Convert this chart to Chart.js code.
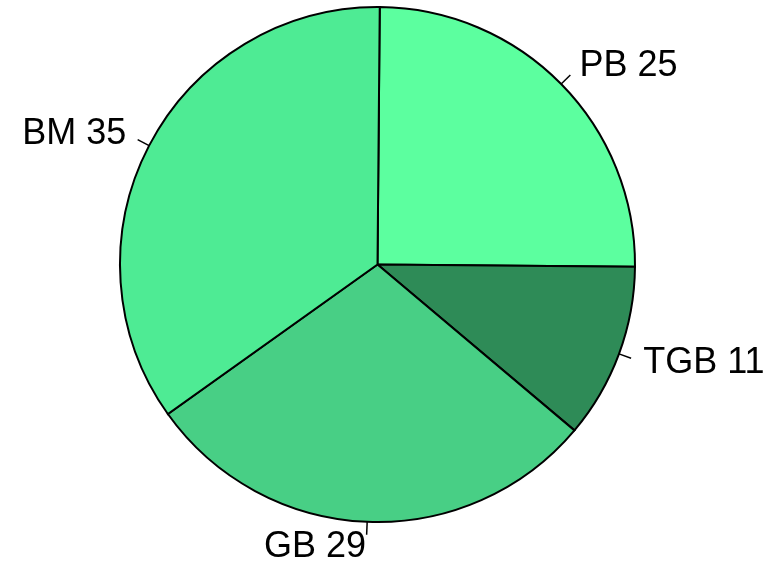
<!DOCTYPE html>
<html>
<head>
<meta charset="utf-8">
<script src="https://cdn.jsdelivr.net/npm/chart.js@4/dist/chart.umd.min.js"></script>
<style>
  html, body { margin: 0; padding: 0; background: #fff; }
  #wrap { width: 783px; height: 567px; }
</style>
</head>
<body>
<div id="wrap"><canvas id="pie"></canvas></div>
<script>
'use strict';

// データ
const categories = ['PB', 'TGB', 'GB', 'BM'];
const values = [25, 11, 29, 35];
const sliceColors = ['#5cff9f', '#2e8b57', '#48cf85', '#4eeb94'];

// 外側のラベル（目盛り線 + テキスト）
const outsideLabels = {
  id: 'outsideLabels',
  afterDatasetsDraw(chart) {
    const ctx = chart.ctx;
    const arcs = chart.getDatasetMeta(0).data;
    ctx.save();
    ctx.strokeStyle = '#000';
    ctx.lineWidth = 1.5;
    ctx.fillStyle = '#000';
    ctx.font = '36px "Liberation Sans", Arial, sans-serif';
    ctx.textBaseline = 'middle';
    arcs.forEach((arc, i) => {
      const mid = (arc.startAngle + arc.endAngle) / 2;
      const r = arc.outerRadius;
      const c = Math.cos(mid), s = Math.sin(mid);
      ctx.beginPath();
      ctx.moveTo(arc.x + c * r, arc.y + s * r);
      ctx.lineTo(arc.x + c * r * 1.05, arc.y + s * r * 1.05);
      ctx.stroke();
      ctx.textAlign = c >= 0 ? 'left' : 'right';
      ctx.fillText(categories[i] + ' ' + values[i], arc.x + c * r * 1.1, arc.y + s * r * 1.1);
    });
    ctx.restore();
  }
};

new Chart(document.getElementById('pie'), {
  type: 'pie',
  data: {
    labels: categories,
    datasets: [{
      data: values,
      backgroundColor: sliceColors,
      borderColor: '#000',
      borderWidth: 2,
      borderJoinStyle: 'miter'
    }]
  },
  options: {
    responsive: true,
    maintainAspectRatio: false,
    animation: false,
    rotation: 0.5,
    layout: { padding: { left: 119, right: 147, top: 6, bottom: 44 } },
    plugins: {
      legend: { display: false },
      tooltip: { enabled: false }
    }
  },
  plugins: [outsideLabels]
});
</script>
</body>
</html>
